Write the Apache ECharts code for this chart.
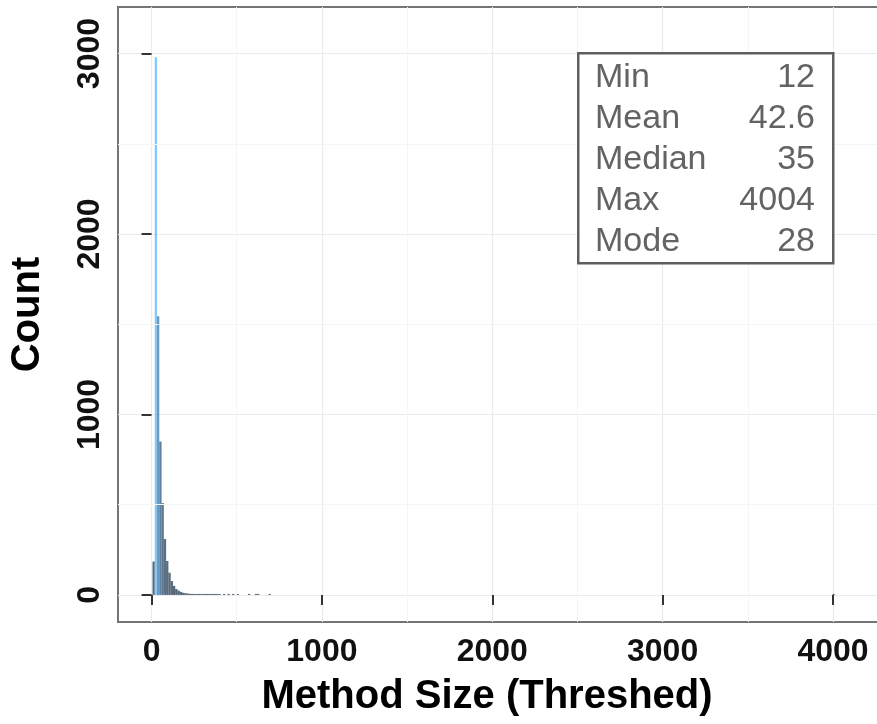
<!DOCTYPE html>
<html>
<head>
<meta charset="utf-8">
<script src="https://cdn.jsdelivr.net/npm/echarts@6/dist/echarts.min.js"></script>
<style>
  html, body { margin: 0; padding: 0; background: #ffffff; }
  #chart { width: 877px; height: 724px; }
</style>
</head>
<body>
<div id="chart"></div>
<script>
// Histogram of method sizes: bin midpoints and counts (bins of equal width)
const binWidth = 13.35;
const binMids = [12, 25.4, 38.7, 52.1, 65.4, 78.8, 92.1, 105.5, 118.8, 132.2,
  145.5, 158.9, 172.2, 185.6, 198.9, 212.3, 225.6, 239, 252.3, 265.7,
  279, 292.4, 305.7, 319.1, 332.4, 345.8, 359.1, 372.5, 385.8, 399.2,
  425.9, 452.6, 479.3, 506, 572.8, 612.8, 626.2, 693, 4004];
const binCounts = [185, 2980, 1544, 850, 509, 310, 188, 123, 77, 50,
  33, 24, 17, 12, 10, 8, 6, 6, 5, 4,
  4, 3, 3, 2, 3, 2, 2, 2, 1, 1,
  1, 2, 1, 1, 1, 1, 1, 1, 1];

// Axis ticks and the lighter minor grid lines between them
const xTicks = [0, 1000, 2000, 3000, 4000];
const yTicks = [0, 1000, 2000, 3000];
const xMinorLines = [500, 1500, 2500, 3500];
const yMinorLines = [500, 1500, 2500];

// Summary statistics shown in the boxed table
const statNames = ['Min', 'Mean', 'Median', 'Max', 'Mode'];
const statValues = ['12', '42.6', '35', '4004', '28'];

const FONT = '"Liberation Sans", Arial, Helvetica, sans-serif';

const chart = echarts.init(document.getElementById('chart'), null, { renderer: 'canvas' });

const histData = binMids.map((m, i) => [m, binCounts[i]]);

// Statistics box layout
const box = { left: 577, top: 52, width: 255, height: 210 };
const rowTop = 61, rowStep = 41;
const statGraphics = [{
  type: 'rect',
  left: box.left, top: box.top,
  shape: { width: box.width, height: box.height },
  style: { fill: '#ffffff', stroke: '#5e5e5e', lineWidth: 2.5 },
  z: 100
}];
statNames.forEach((name, i) => {
  statGraphics.push({
    type: 'text',
    x: 595, y: rowTop + i * rowStep,
    style: { text: name, font: '34px ' + FONT, fill: '#636363', textAlign: 'left', textVerticalAlign: 'top' },
    z: 101
  });
  statGraphics.push({
    type: 'text',
    x: 815, y: rowTop + i * rowStep,
    style: { text: statValues[i], font: '34px ' + FONT, fill: '#636363', textAlign: 'right', textVerticalAlign: 'top' },
    z: 101
  });
});

const tickLabelStyle = {
  color: '#111111', fontSize: 32, fontWeight: 'bold', fontFamily: FONT,
  formatter: v => String(v)
};

const option = {
  backgroundColor: '#ffffff',
  animation: false,
  grid: {
    left: 118, top: 7, width: 770, bottom: 102,
    outerBoundsMode: 'none',
    containLabel: false,
    show: true, backgroundColor: '#ffffff',
    borderColor: '#757575', borderWidth: 2
  },
  xAxis: {
    type: 'value',
    min: -197, max: 4323,
    splitNumber: 4,
    axisLine: { show: false },
    axisTick: { show: true, length: 10, customValues: xTicks, lineStyle: { color: '#333333', width: 2 } },
    axisLabel: { customValues: xTicks, margin: 14, ...tickLabelStyle },
    splitLine: { show: true, lineStyle: { color: '#ebebeb', width: 1.2 } },
    name: 'Method Size (Threshed)',
    nameLocation: 'middle',
    nameGap: 55,
    nameTextStyle: { color: '#000000', fontSize: 40, fontWeight: 'bold', fontFamily: FONT, padding: [0, 32, 0, 0] }
  },
  yAxis: {
    type: 'value',
    min: -150, max: 3258,
    splitNumber: 3,
    axisLine: { show: false },
    axisTick: { show: true, length: 10, customValues: yTicks, lineStyle: { color: '#333333', width: 2 } },
    axisLabel: { customValues: yTicks, rotate: 90, margin: 12, ...tickLabelStyle },
    splitLine: { show: true, lineStyle: { color: '#ebebeb', width: 1.2 } },
    name: 'Count',
    nameLocation: 'middle',
    nameGap: 70,
    nameTextStyle: { color: '#000000', fontSize: 40, fontWeight: 'bold', fontFamily: FONT }
  },
  visualMap: {
    type: 'continuous',
    show: false,
    seriesIndex: 0,
    dimension: 1,
    min: 0,
    max: Math.max(...binCounts),
    inRange: { color: ['#132B43', '#56B1F7'] }
  },
  graphic: statGraphics,
  series: [
    {
      type: 'custom',
      name: 'count',
      data: histData,
      encode: { x: 0, y: 1 },
      clip: true,
      z: 3,
      renderItem: function (params, api) {
        const mid = api.value(0);
        const cnt = api.value(1);
        const topLeft = api.coord([mid - binWidth / 2, cnt]);
        const bottomRight = api.coord([mid + binWidth / 2, 0]);
        const h = Math.max(bottomRight[1] - topLeft[1], 1);
        return {
          type: 'rect',
          shape: { x: topLeft[0], y: bottomRight[1] - h, width: bottomRight[0] - topLeft[0], height: h },
          style: { fill: api.visual('color'), opacity: 0.72 }
        };
      }
    },
    {
      // minor grid lines
      type: 'line',
      data: [],
      z: 1,
      silent: true,
      markLine: {
        silent: true,
        symbol: 'none',
        label: { show: false },
        animation: false,
        lineStyle: { color: '#f5f5f5', width: 1, type: 'solid' },
        data: xMinorLines.map(v => ({ xAxis: v })).concat(yMinorLines.map(v => ({ yAxis: v })))
      }
    }
  ]
};

chart.setOption(option);
</script>
</body>
</html>
